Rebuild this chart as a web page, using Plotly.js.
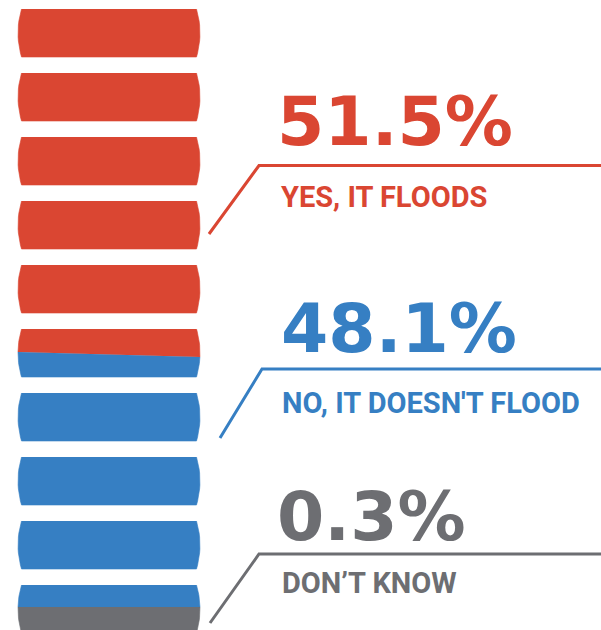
<!DOCTYPE html>
<html>
<head>
<meta charset="utf-8">
<script src="https://cdn.plot.ly/plotly-3.0.1.min.js"></script>
<style>html,body{margin:0;padding:0;background:#fff;}#chart{width:601px;height:630px;}</style>
</head>
<body>
<div id="chart"></div>
<script>
// ---- data ----
const categories = ["YES, IT FLOODS", "NO, IT DOESN'T FLOOD", "DON\u2019T KNOW"];
const percentValues = [51.5, 48.1, 0.3];
// share of the 10-barrel column each answer fills, as drawn in the picture (barrel units)
const barrelUnits = [5.53, 3.93, 0.54];

// ---- style ----
const colors = ["#DA4632", "#367FC3", "#6D6E72"];
const N_BARRELS = 10;
const BARREL_TOP0 = 9, PITCH = 64, BARREL_H = 48;
const X_LEFT = 18, X_RIGHT = 200, BULGE = 3.5;
const R = ((BARREL_H / 2) ** 2 + BULGE ** 2) / (2 * BULGE);
const boundaryTilt = [0, 5, 0, 0]; // px, right side lower than left
const labelLayout = [
  {numX: 275, numY: 121, subX: 279, subY: 197, lineY: 165.5, cornerX: 259, endX: 209, endY: 234},
  {numX: 279, numY: 328, subX: 280, subY: 402.5, lineY: 369, cornerX: 262, endX: 220, endY: 438},
  {numX: 275, numY: 516.5, subX: 280, subY: 582.5, lineY: 554, cornerX: 259, endX: 210, endY: 623}
];

// ---- build barrel fills ----
const cum = [0];
barrelUnits.forEach(v => cum.push(cum[cum.length - 1] + v));

function sidePoints(i, yA, yB, side) {
  const top = BARREL_TOP0 + i * PITCH, ym = top + BARREL_H / 2;
  const pts = [];
  const steps = 12;
  for (let s = 0; s <= steps; s++) {
    let y = yA + (yB - yA) * s / steps;
    y = Math.min(Math.max(y, top), top + BARREL_H);
    const d = Math.sqrt(R * R - (y - ym) ** 2);
    const x = side === 'L' ? X_LEFT + R - d : X_RIGHT - R + d;
    pts.push([x, y]);
  }
  return pts;
}

const traces = [];
for (let k = 0; k < barrelUnits.length; k++) {
  const xs = [], ys = [];
  const start = cum[k], end = cum[k + 1];
  for (let i = 0; i < N_BARRELS; i++) {
    const f0 = Math.max(start - i, 0), f1 = Math.min(end - i, 1);
    if (f1 <= f0) continue;
    const top = BARREL_TOP0 + i * PITCH;
    const tT = (f0 > 0 && f0 < 1) ? boundaryTilt[k] : 0;
    const tB = (f1 > 0 && f1 < 1) ? boundaryTilt[k + 1] : 0;
    const yT = top + f0 * BARREL_H, yB = top + f1 * BARREL_H;
    const left = sidePoints(i, yT - tT / 2, yB - tB / 2, 'L');
    const right = sidePoints(i, yB + tB / 2, yT + tT / 2, 'R');
    left.concat(right).forEach(p => { xs.push(p[0]); ys.push(p[1]); });
    xs.push(null); ys.push(null);
  }
  traces.push({
    type: 'scatter', mode: 'lines', x: xs, y: ys,
    fill: 'toself', fillcolor: colors[k],
    line: {width: 0.6, color: colors[k]},
    hoverinfo: 'skip', showlegend: false, connectgaps: false,
    name: categories[k]
  });
}

// ---- labels ----
const annotations = [];
const shapes = [];
categories.forEach((cat, k) => {
  const L = labelLayout[k];
  annotations.push({
    xref: 'x', yref: 'y', x: L.numX, y: L.numY, xanchor: 'left', yanchor: 'middle',
    text: percentValues[k].toFixed(1) + '%', showarrow: false,
    font: {family: 'DejaVu Sans', size: 68, weight: 700, color: colors[k]}
  });
  annotations.push({
    xref: 'x', yref: 'y', x: L.subX, y: L.subY, xanchor: 'left', yanchor: 'middle',
    text: cat, showarrow: false,
    font: {family: 'Roboto', size: 29, weight: 700, color: colors[k]}
  });
  shapes.push({
    type: 'path', xref: 'x', yref: 'y',
    path: `M ${L.endX} ${L.endY} L ${L.cornerX} ${L.lineY} L 601 ${L.lineY}`,
    line: {color: colors[k], width: 3}
  });
});

const layout = {
  width: 601, height: 630,
  margin: {l: 0, r: 0, t: 0, b: 0, pad: 0},
  paper_bgcolor: '#ffffff', plot_bgcolor: '#ffffff',
  xaxis: {range: [0, 601], visible: false, fixedrange: true},
  yaxis: {range: [630, 0], visible: false, fixedrange: true},
  showlegend: false,
  annotations: annotations,
  shapes: shapes
};

Plotly.newPlot('chart', traces, layout, {displayModeBar: false, staticPlot: true});
</script>
</body>
</html>
